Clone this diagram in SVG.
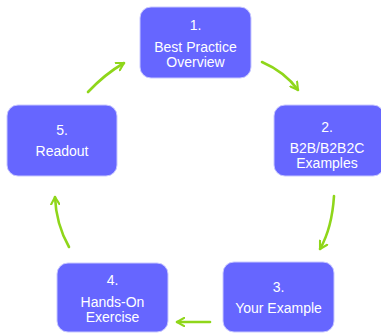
<svg xmlns="http://www.w3.org/2000/svg" width="381" height="333" viewBox="0 0 381 333">
<style>
.box{fill:#6666ff;stroke:#c8c8ff;stroke-width:1}
.t{font-family:"Liberation Sans",Arial,sans-serif;font-size:14px;fill:#ffffff;text-anchor:middle}
.c{fill:none;stroke:#8fd61a;stroke-width:2.6;stroke-linecap:round}
</style>
<defs>
<marker id="ah" viewBox="0 0 10 10" refX="8" refY="5" markerWidth="4" markerHeight="4" orient="auto" markerUnits="strokeWidth">
<path d="M1,1 L8,5 L1,9" fill="none" stroke="#8fd61a" stroke-width="2" stroke-linecap="round" stroke-linejoin="round"/>
</marker>
</defs>
<rect width="381" height="333" fill="#ffffff"/>
<g id="connectors">
<path class="c" d="M262,62 Q285,72 298,90" marker-end="url(#ah)"/>
<path class="c" d="M334,196 Q332,228 320,249" marker-end="url(#ah)"/>
<path class="c" d="M210,322 L177,322" marker-end="url(#ah)"/>
<path class="c" d="M69,247 Q56,224 55,197" marker-end="url(#ah)"/>
<path class="c" d="M88,92 Q105,74 124,63" marker-end="url(#ah)"/>
</g>
<g id="n1">
<rect class="box" x="140" y="7" width="111" height="71" rx="11"/>
<text class="t" x="195.5" y="30">1.</text>
<text class="t" x="195.5" y="52">Best Practice</text>
<text class="t" x="195.5" y="67">Overview</text>
</g>
<g id="n2">
<rect class="box" x="274" y="105" width="110" height="71" rx="11"/>
<text class="t" x="327" y="132">2.</text>
<text class="t" x="327" y="153">B2B/B2B2C</text>
<text class="t" x="327" y="168">Examples</text>
</g>
<g id="n3">
<rect class="box" x="223" y="262" width="111" height="70" rx="11"/>
<text class="t" x="278.5" y="292">3.</text>
<text class="t" x="278.5" y="313">Your Example</text>
</g>
<g id="n4">
<rect class="box" x="57" y="263" width="111" height="69" rx="11"/>
<text class="t" x="112.5" y="285">4.</text>
<text class="t" x="112.5" y="307">Hands-On</text>
<text class="t" x="112.5" y="322">Exercise</text>
</g>
<g id="n5">
<rect class="box" x="7" y="105" width="110" height="71" rx="11"/>
<text class="t" x="62" y="135">5.</text>
<text class="t" x="62" y="156">Readout</text>
</g>
</svg>
